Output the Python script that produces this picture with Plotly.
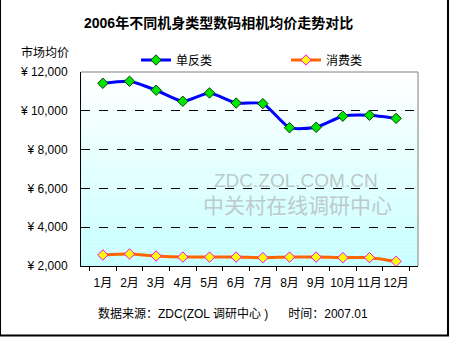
import plotly.graph_objects as go

months = ["1月", "2月", "3月", "4月", "5月", "6月", "7月", "8月", "9月", "10月", "11月", "12月"]
dslr = [11420, 11520, 11060, 10490, 10920, 10400, 10370, 9130, 9150, 9720, 9770, 9610]
consumer = [2570, 2620, 2515, 2460, 2460, 2460, 2430, 2460, 2460, 2430, 2430, 2240]
y_ticks = [2000, 4000, 6000, 8000, 10000, 12000]
y_labels = ["¥ 2,000", "¥ 4,000", "¥ 6,000", "¥ 8,000", "¥ 10,000", "¥ 12,000"]

W, H = 450, 337
L, R, T, B = 81, 32, 72, 71
pw, ph = W - L - R, H - T - B

FONT = "Arial, Liberation Sans, Noto Sans CJK SC"

fig = go.Figure()
fig.add_trace(go.Scatter(
    x=months, y=dslr, name="单反类", mode="lines+markers", legend="legend",
    line=dict(color="#0000FF", width=3, shape="spline", smoothing=0.6),
    marker=dict(symbol="diamond", size=8, color="#00E600", line=dict(color="#004000", width=1)),
))
fig.add_trace(go.Scatter(
    x=months, y=consumer, name="消费类", mode="lines+markers", legend="legend2",
    line=dict(color="#FF6600", width=3, shape="spline", smoothing=0.6),
    marker=dict(symbol="diamond", size=8, color="#FFFF00", line=dict(color="#FF00FF", width=1)),
))

shapes = []
# gradient background
n = 50
for i in range(n):
    f = i / (n - 1)
    r = int(255 - (255 - 200) * f)
    c = f"rgb({r},255,255)"
    y0 = 12000 - 10000 * i / n
    y1 = 12000 - 10000 * (i + 1) / n
    shapes.append(dict(type="rect", xref="paper", yref="y", x0=0, x1=1, y0=y1, y1=y0,
                       fillcolor=c, line=dict(width=0), layer="below"))
# top & right gray border
shapes.append(dict(type="line", xref="paper", yref="paper", x0=0, x1=1, y0=1, y1=1,
                   line=dict(color="#808080", width=1)))
shapes.append(dict(type="line", xref="paper", yref="paper", x0=1, x1=1, y0=0, y1=1,
                   line=dict(color="#808080", width=1)))
# outer frame (left, right, bottom)
def px(x):
    return (x - L) / pw
def py(y):
    return (H - B - y) / ph
shapes.append(dict(type="line", xref="paper", yref="paper", x0=px(0.5), x1=px(0.5), y0=py(0), y1=py(336),
                   line=dict(color="black", width=1)))
shapes.append(dict(type="line", xref="paper", yref="paper", x0=px(448), x1=px(448), y0=py(0), y1=py(336),
                   line=dict(color="black", width=2)))
shapes.append(dict(type="line", xref="paper", yref="paper", x0=px(0), x1=px(449), y0=py(335.5), y1=py(335.5),
                   line=dict(color="black", width=2)))

def ann(text, cx, cy, size, color="black"):
    return dict(text=text, xref="paper", yref="paper", x=px(cx), y=py(cy),
                xanchor="center", yanchor="middle", showarrow=False,
                font=dict(size=size, color=color, family=FONT))

annotations = [
    ann("<b>2006年不同机身类型数码相机均价走势对比</b>", 218, 23, 14),
    ann("市场均价", 45, 53, 12),
    ann("数据来源：ZDC(ZOL 调研中心 )      时间：2007.01", 233, 313, 12),
    ann("ZDC.ZOL.COM.CN", 296, 180, 19, "#BCCACA"),
    ann("中关村在线调研中心", 297, 205, 21, "#BCCACA"),
]

leg_common = dict(orientation="h", xref="container", yref="container",
                  xanchor="left", yanchor="middle", bgcolor="rgba(0,0,0,0)",
                  font=dict(size=12, family=FONT), itemwidth=30)

fig.update_layout(
    width=W, height=H,
    margin=dict(l=L, r=R, t=T, b=B, pad=0, autoexpand=False),
    paper_bgcolor="white", plot_bgcolor="rgba(0,0,0,0)",
    font=dict(family=FONT, size=12, color="black"),
    showlegend=True,
    legend=dict(x=136 / W, y=1 - 60 / H, **leg_common),
    legend2=dict(x=286 / W, y=1 - 60 / H, **leg_common),
    xaxis=dict(type="category", showline=True, linecolor="black", linewidth=1,
               ticks="outside", tickson="boundaries", ticklen=4, tickcolor="black",
               showgrid=False, tickfont=dict(size=12), tickangle=0, fixedrange=True,
               ticklabelstandoff=6),
    yaxis=dict(range=[2000, 12000], tickvals=y_ticks, ticktext=y_labels,
               showline=True, linecolor="black", linewidth=1, ticks="",
               showgrid=True, gridcolor="black", griddash="dash", gridwidth=1,
               zeroline=False, tickfont=dict(size=12), ticklabelstandoff=10),
    shapes=shapes, annotations=annotations,
)

fig.write_html("out.html")
